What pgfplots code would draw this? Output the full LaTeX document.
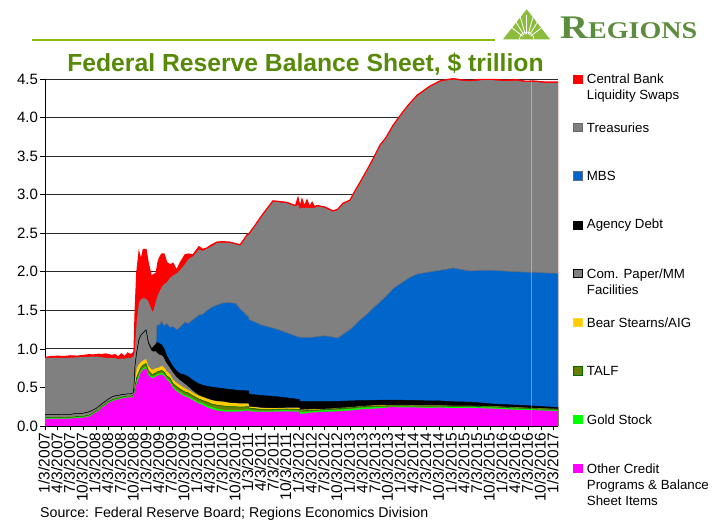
\documentclass[border=0pt]{standalone}
\usepackage{fontspec}
\setmainfont{Liberation Sans}
\newfontfamily\logofont{Liberation Serif}
\usepackage{pgfplots}
\usepackage{pgfplotstable}
\pgfplotsset{compat=1.18}

\definecolor{brandline}{RGB}{140,186,20}
\definecolor{titlegreen}{RGB}{88,138,10}
\definecolor{logogreen}{RGB}{140,188,60}
\definecolor{logotext}{RGB}{92,140,62}
\definecolor{swapred}{RGB}{255,0,0}
\definecolor{tsygray}{RGB}{128,128,128}
\definecolor{mbsblue}{RGB}{0,102,204}
\definecolor{mbsedge}{RGB}{100,110,125}
\definecolor{bsgold}{RGB}{255,204,0}
\definecolor{talfolive}{RGB}{102,128,0}
\definecolor{talfedge}{RGB}{0,102,0}
\definecolor{goldlime}{RGB}{0,255,0}
\definecolor{othermag}{RGB}{255,0,255}
\definecolor{gridink}{RGB}{40,40,40}

% Running totals in $ trillion: each column is the top edge of a layer.
% q counts quarters since January 2007.
% m other credit, g gold stock, t TALF, b Bear Stearns/AIG, c com. paper,
% a agency debt, v MBS, y Treasuries, s liquidity swaps.
\pgfplotstableread{
q m g t b c a v y s
0.00 .090 .100 .108 .112 .145 .145 .145 .880 .890
0.50 .095 .105 .113 .117 .148 .148 .148 .885 .900
1.00 .095 .105 .113 .117 .148 .148 .148 .885 .905
1.50 .097 .107 .115 .119 .150 .150 .150 .885 .900
2.00 .095 .105 .113 .118 .150 .150 .150 .885 .910
2.50 .105 .115 .123 .128 .162 .162 .162 .890 .905
3.00 .108 .118 .126 .131 .165 .165 .165 .895 .915
3.50 .125 .135 .143 .148 .185 .185 .185 .895 .925
3.75 .150 .160 .168 .173 .205 .205 .205 .900 .920
4.00 .175 .185 .193 .198 .225 .225 .225 .900 .925
4.25 .195 .205 .213 .218 .255 .255 .255 .895 .930
4.50 .240 .250 .258 .262 .290 .290 .290 .890 .925
4.75 .270 .280 .288 .292 .320 .320 .320 .885 .935
5.00 .300 .310 .318 .322 .350 .350 .350 .885 .925
5.25 .320 .330 .338 .342 .375 .375 .375 .880 .915
5.50 .335 .345 .353 .357 .390 .390 .390 .880 .925
5.75 .345 .355 .363 .367 .395 .395 .395 .870 .895
6.00 .355 .365 .373 .377 .405 .405 .405 .875 .935
6.25 .365 .375 .383 .387 .410 .410 .410 .875 .900
6.50 .370 .380 .388 .392 .415 .415 .415 .880 .945
6.75 .370 .380 .388 .392 .415 .415 .415 .885 .925
6.95 .385 .395 .403 .407 .430 .430 .430 .900 .950
7.00 .400 .410 .420 .430 .500 .500 .500 .930 .970
7.08 .470 .490 .520 .590 .780 .780 .780 1.05 1.45
7.21 .550 .580 .630 .750 .950 .950 .950 1.35 1.98
7.39 .630 .660 .700 .800 1.12 1.12 1.12 1.60 2.25
7.55 .700 .720 .760 .830 1.18 1.18 1.18 1.64 2.15
7.73 .730 .750 .790 .850 1.21 1.21 1.21 1.66 2.29
7.94 .750 .770 .810 .870 1.245 1.245 1.245 1.65 2.29
8.12 .660 .680 .720 .780 1.08 1.09 1.09 1.62 2.11
8.39 .620 .640 .670 .730 .980 1.00 1.00 1.50 1.92
8.49 .620 .640 .670 .730 .970 1.02 1.02 1.48 1.96
8.73 .640 .660 .690 .750 .970 1.06 1.06 1.62 1.98
8.78 .650 .670 .700 .755 .960 1.08 1.30 1.65 2.02
8.88 .655 .675 .705 .755 .945 1.08 1.31 1.70 2.12
9.00 .660 .680 .710 .760 .930 1.07 1.31 1.74 2.18
9.17 .670 .690 .720 .780 .920 1.05 1.36 1.80 2.23
9.36 .650 .670 .700 .760 .890 1.00 1.30 1.84 2.23
9.57 .600 .620 .650 .710 .820 .910 1.33 1.86 2.12
9.83 .560 .580 .620 .670 .760 .830 1.28 1.92 2.09
10.06 .490 .510 .550 .600 .700 .770 1.29 1.95 2.11
10.35 .450 .470 .510 .560 .640 .710 1.25 1.98 2.02
10.61 .420 .440 .480 .530 .600 .680 1.28 2.02 2.11
11.01 .380 .400 .440 .490 .550 .660 1.35 2.10 2.22
11.25 .370 .390 .430 .470 .520 .640 1.33 2.16 2.23
11.64 .330 .350 .390 .430 .460 .590 1.38 2.20 2.22
12.10 .290 .310 .350 .390 .405 .545 1.44 2.29 2.325
12.40 .270 .295 .330 .375 .385 .530 1.45 2.27 2.29
12.74 .240 .265 .310 .355 .360 .515 1.50 2.30 2.31
13.10 .220 .245 .285 .335 .340 .505 1.54 2.33 2.35
13.52 .200 .225 .270 .320 .325 .495 1.57 2.375 2.385
14.00 .190 .210 .260 .315 .320 .485 1.595 2.38 2.39
14.50 .185 .205 .250 .300 .305 .475 1.60 2.375 2.385
15.00 .185 .205 .250 .295 .300 .465 1.59 2.355 2.365
15.33 .190 .205 .245 .290 .295 .460 1.52 2.34 2.35
15.60 .195 .210 .248 .290 .295 .458 1.48 2.40 2.41
15.88 .200 .215 .250 .290 .295 .455 1.43 2.47 2.48
16.00 .200 .215 .250 .290 .295 .455 1.42 2.485 2.495
16.05 .190 .205 .230 .250 .255 .410 1.38 2.49 2.50
16.50 .185 .200 .225 .245 .250 .405 1.35 2.59 2.60
17.00 .185 .200 .215 .235 .240 .395 1.31 2.71 2.72
17.50 .185 .200 .215 .232 .237 .390 1.29 2.82 2.83
17.92 .185 .200 .215 .230 .235 .385 1.27 2.91 2.92
18.50 .190 .205 .218 .232 .237 .375 1.24 2.90 2.91
19.00 .190 .205 .220 .235 .240 .365 1.21 2.89 2.90
19.50 .188 .203 .218 .236 .240 .355 1.18 2.86 2.87
19.70 .186 .201 .216 .236 .240 .350 1.17 2.85 2.86
19.89 .185 .200 .215 .235 .240 .345 1.155 2.87 2.96
20.00 .185 .200 .215 .235 .240 .345 1.155 2.84 2.88
20.05 .155 .180 .195 .210 .215 .320 1.15 2.83 2.84
20.20 .158 .182 .197 .211 .216 .320 1.15 2.83 2.94
20.40 .162 .184 .199 .212 .217 .318 1.15 2.83 2.85
20.60 .166 .186 .201 .213 .218 .317 1.15 2.83 2.93
20.80 .170 .188 .203 .214 .219 .316 1.15 2.83 2.84
21.00 .175 .190 .205 .215 .220 .315 1.15 2.83 2.90
21.20 .176 .192 .206 .216 .221 .315 1.155 2.83 2.84
21.38 .178 .194 .207 .217 .222 .315 1.16 2.85 2.86
22.00 .185 .205 .215 .220 .225 .315 1.17 2.83 2.84
22.64 .188 .208 .220 .225 .230 .318 1.155 2.78 2.79
23.00 .190 .210 .225 .230 .235 .320 1.14 2.80 2.81
23.43 .195 .215 .230 .235 .240 .322 1.19 2.88 2.89
23.98 .200 .220 .235 .240 .245 .325 1.25 2.92 2.93
24.30 .205 .225 .240 .245 .250 .327 1.30 3.02 3.03
24.76 .215 .235 .250 .255 .260 .330 1.375 3.15 3.16
25.31 .220 .240 .255 .260 .265 .330 1.45 3.31 3.32
25.80 .225 .243 .258 .265 .270 .332 1.53 3.46 3.47
26.34 .230 .245 .260 .270 .275 .335 1.61 3.635 3.645
26.80 .238 .248 .262 .270 .275 .335 1.68 3.73 3.74
27.36 .245 .250 .265 .270 .275 .335 1.78 3.89 3.90
28.07 .240 .250 .265 .270 .275 .335 1.86 4.05 4.06
28.60 .240 .250 .262 .267 .272 .332 1.92 4.16 4.17
29.25 .240 .250 .260 .265 .270 .330 1.97 4.28 4.29
30.27 .235 .245 .260 .265 .270 .325 2.00 4.40 4.41
31.05 .240 .250 .260 .265 .270 .325 2.02 4.465 4.475
31.50 .235 .248 .258 .263 .268 .320 2.03 4.48 4.49
32.08 .230 .245 .255 .260 .265 .315 2.05 4.495 4.505
32.70 .233 .245 .255 .260 .265 .312 2.03 4.48 4.49
33.41 .235 .245 .255 .260 .265 .310 2.01 4.47 4.48
34.30 .230 .242 .252 .257 .262 .298 2.02 4.485 4.495
35.22 .225 .240 .250 .255 .260 .285 2.02 4.485 4.495
36.10 .218 .232 .242 .247 .252 .278 2.01 4.475 4.485
37.11 .210 .225 .235 .240 .245 .270 2.00 4.48 4.49
37.80 .208 .220 .230 .235 .240 .265 1.995 4.46 4.47
38.36 .205 .215 .225 .230 .235 .260 1.995 4.465 4.475
39.30 .200 .210 .220 .225 .230 .250 1.985 4.45 4.46
40.33 .195 .205 .215 .220 .225 .240 1.98 4.45 4.46
}\levels

\begin{document}
\begin{tikzpicture}[x=1pt,y=1pt]
\path[use as bounding box] (0,0) rectangle (723,521);

% Rule and wordmark across the top
\fill[brandline] (32,480.2) rectangle (495,481.9);
\fill[logogreen] (503,481.7) -- (526.7,511.7) -- (550,481.7) -- cycle;
\foreach \a in {38,58,74,90,106,122,142}
  \draw[white,line width=0.8pt] (526.7,481.7) ++(\a:5) -- ++(\a:19);
\draw[white,line width=0.7pt] (519.5,481.7) arc (180:0:7.2);
\node[anchor=base west,inner sep=0,text=logotext,xscale=1.17] at (560,482)
  {\logofont\bfseries\fontsize{33}{33}\selectfont R\fontsize{24}{24}\selectfont EGIONS};

% Chart title
\node[anchor=base,inner sep=0,text=titlegreen,font=\bfseries\fontsize{24.7}{24.7}\selectfont] at (305.5,449.5)
  {Federal Reserve Balance Sheet, \$ trillion};

\begin{axis}[
  at={(45pt,95pt)}, anchor=south west,
  scale only axis, width=513pt, height=347pt,
  xmin=0, xmax=40.33, ymin=0, ymax=4.5,
  axis lines=left,
  axis line style={-, black, line width=0.9pt},
  ymajorgrids,
  major grid style={gridink, line width=0.8pt},
  tick align=outside,
  major tick length=4.5pt,
  tick style={black, line width=0.7pt},
  ytick={0,0.5,...,4.5},
  yticklabel style={font=\fontsize{15}{15}\selectfont, /pgf/number format/fixed,
    /pgf/number format/fixed zerofill, /pgf/number format/precision=1,
    /pgf/number format/assume math mode=true, xshift=1pt},
  xtick={0,1,...,40},
  xticklabels={1/3/2007,4/3/2007,7/3/2007,10/3/2007,1/3/2008,4/3/2008,7/3/2008,10/3/2008,
    1/3/2009,4/3/2009,7/3/2009,10/3/2009,1/3/2010,4/3/2010,7/3/2010,10/3/2010,
    1/3/2011,4/3/2011,7/3/2011,10/3/2011,1/3/2012,4/3/2012,7/3/2012,10/3/2012,
    1/3/2013,4/3/2013,7/3/2013,10/3/2013,1/3/2014,4/3/2014,7/3/2014,10/3/2014,
    1/3/2015,4/3/2015,7/3/2015,10/3/2015,1/3/2016,4/3/2016,7/3/2016,10/3/2016,1/3/2017},
  xticklabel style={rotate=90, anchor=east, inner sep=0pt, xshift=-2pt, yshift=1pt,
    font=\fontsize{15.5}{15.5}\selectfont},
  no markers,
]
% Layers run back to front, each filled down to the axis
\addplot[fill=swapred, draw=none] table[x=q,y=s] {\levels} \closedcycle;
\addplot[fill=tsygray, draw=none] table[x=q,y=y] {\levels} \closedcycle;
\addplot[swapred, line width=1.2pt] table[x=q,y=s] {\levels};
\addplot[fill=mbsblue, draw=mbsedge, line width=0.7pt] table[x=q,y=v] {\levels} \closedcycle;
\addplot[fill=black, draw=black, line width=0.5pt] table[x=q,y=a] {\levels} \closedcycle;
\addplot[fill=tsygray, draw=black, line width=0.45pt] table[x=q,y=c] {\levels} \closedcycle;
\addplot[fill=bsgold, draw=none] table[x=q,y=b] {\levels} \closedcycle;
\addplot[fill=talfolive, draw=talfedge, line width=0.6pt] table[x=q,y=t] {\levels} \closedcycle;
\addplot[fill=goldlime, draw=none] table[x=q,y=g] {\levels} \closedcycle;
\addplot[fill=othermag, draw=none] table[x=q,y=m] {\levels} \closedcycle;
% Pale seam through the layers in 2016
\draw[white, opacity=0.35, line width=0.8pt] (axis cs:38.25,0) -- (axis cs:38.25,4.47);
\end{axis}

% Key down the right-hand side
\newcommand{\keybox}[4]{\filldraw[fill=#2,draw=#3,line width=0.7pt] (573.6,#1-4.2) rectangle ++(8.4,8.4);}
\keybox{441.7}{swapred}{swapred}{}
\keybox{393.7}{tsygray}{tsygray!80!black}{}
\keybox{345}{mbsblue}{mbsedge}{}
\keybox{295.7}{black}{black}{}
\keybox{247.7}{tsygray}{black}{}
\keybox{198.7}{bsgold}{bsgold!80!white}{}
\keybox{150.3}{talfolive}{talfedge}{}
\keybox{101.7}{goldlime}{goldlime}{}
\keybox{52.7}{othermag}{othermag}{}
\tikzset{keytext/.style={anchor=west,inner sep=0,align=left,
  font=\fontsize{13.3}{16}\selectfont}}
\node[keytext] at (586.7,433) {Central Bank\\Liquidity Swaps};
\node[keytext] at (586.7,393.7) {Treasuries};
\node[keytext] at (586.7,345) {MBS};
\node[keytext] at (586.7,295.7) {Agency Debt};
\node[keytext] at (586.7,239.7) {Com. Paper/MM\\Facilities};
\node[keytext] at (586.7,198.7) {Bear Stearns/AIG};
\node[keytext] at (586.7,150.3) {TALF};
\node[keytext] at (586.7,101.7) {Gold Stock};
\node[keytext] at (586.7,36.7) {Other Credit\\Programs \& Balance\\Sheet Items};

% Source line
\node[anchor=base west,inner sep=0,font=\fontsize{14.2}{14.2}\selectfont] at (40,3.4)
  {Source: Federal Reserve Board; Regions Economics Division};
\end{tikzpicture}
\end{document}
